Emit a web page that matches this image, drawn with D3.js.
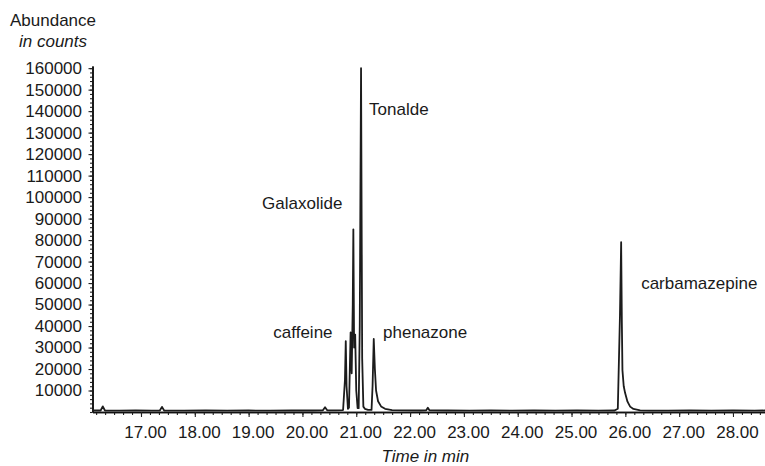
<!DOCTYPE html>
<html><head><meta charset="utf-8">
<script src="https://cdn.jsdelivr.net/npm/d3@7"></script>
<style>
body{margin:0;background:#fff}
text{font-family:"Liberation Sans",Arial,Helvetica,sans-serif;fill:#1a1a1a}
</style>
</head><body>
<svg id="c" width="765" height="466"></svg>
<script>
// ---- data ----
const times = [16.10,16.25,16.29,16.33,16.60,16.90,17.20,17.35,17.39,17.43,17.80,18.20,18.60,19.00,19.40,19.80,20.20,20.38,20.42,20.46,20.62,
  20.755,20.79,20.805,20.82,20.845,
  20.865,20.895,20.915,20.935,20.946,20.96,20.98,21.00,21.025,
  21.045,21.065,21.089,21.11,21.132,21.16,21.22,
  21.284,21.303,21.325,21.346,21.368,21.405,21.461,21.535,21.665,
  21.90,22.20,22.30,22.33,22.36,22.70,23.10,23.50,23.90,24.30,24.70,25.10,25.50,25.80,
  25.86,25.90,25.922,25.935,25.946,25.97,25.996,26.04,26.089,26.15,26.275,26.45,
  26.80,27.20,27.60,28.00,28.40,28.595];
const abundance = [700,700,2600,700,600,700,600,700,2400,700,600,700,600,700,600,700,700,800,2200,800,800,
  900,15000,33000,12000,1500,
  2000,37000,18000,50000,85000,30000,36000,10000,1800,
  1800,40000,160000,25000,2500,1500,1000,
  1000,12000,34000,20000,10000,5000,2600,1500,900,
  800,700,800,2000,800,700,600,700,600,700,600,700,600,700,
  1500,45000,79000,42000,19500,12000,8800,4800,2500,1400,800,600,
  600,700,600,700,600,700];
const xTickValues = [17,18,19,20,21,22,23,24,25,26,27,28];
const yTickValues = [10000,20000,30000,40000,50000,60000,70000,80000,90000,100000,110000,120000,130000,140000,150000,160000];
const peakNames = ["caffeine","Galaxolide","Tonalde","phenazone","carbamazepine"];
const labelTimes = [19.459,19.249,21.238,21.498,26.294];
const labelAbund = [34430,94460,138200,34430,57230];

// ---- chart ----
const svg = d3.select("#c");
const x = d3.scaleLinear().domain([16.099, 28.595]).range([92.5, 765]);
const y = d3.scaleLinear().domain([0, 161000]).range([412, 66]);

// minor ticks
const xMinor = d3.range(16.1667, 28.59, 1/6);
const yMinor = d3.range(0, 160001, 2000);

const gx = svg.append("g").attr("transform", `translate(0,${y(0)})`);
gx.call(d3.axisBottom(x).tickValues(xMinor).tickSize(3).tickSizeOuter(0).tickFormat(""));
const gx2 = svg.append("g").attr("transform", `translate(0,${y(0)})`);
gx2.call(d3.axisBottom(x).tickValues(xTickValues).tickSize(5).tickSizeOuter(0).tickPadding(9).tickFormat(d => d.toFixed(2)));
gx2.selectAll("text").attr("font-size", 17).attr("dx", 4);

const gy = svg.append("g").attr("transform", `translate(${x.range()[0]},0)`);
gy.call(d3.axisLeft(y).tickValues(yMinor).tickSize(2.5).tickSizeOuter(0).tickFormat(""));
const gy2 = svg.append("g").attr("transform", `translate(${x.range()[0]},0)`);
gy2.call(d3.axisLeft(y).tickValues(yTickValues).tickSize(4).tickSizeOuter(0).tickPadding(6.5).tickFormat(d3.format("d")));
gy2.selectAll("text").attr("font-size", 17);

svg.selectAll(".domain").attr("stroke", "#111").attr("stroke-width", 1.6);
svg.selectAll(".tick line").attr("stroke", "#222").attr("stroke-width", 1.1);
svg.selectAll(".tick text").attr("fill", "#1a1a1a");

// chromatogram trace
const pts = times.map((t, i) => [t, abundance[i]]);
svg.append("path")
  .datum(pts)
  .attr("fill", "none")
  .attr("stroke", "#1c1c1c")
  .attr("stroke-width", 1.8)
  .attr("stroke-linejoin", "round")
  .attr("d", d3.line().x(d => x(d[0])).y(d => y(d[1])));

// peak labels
svg.selectAll("text.peak").data(peakNames).join("text")
  .attr("class", "peak")
  .attr("x", (d, i) => x(labelTimes[i]))
  .attr("y", (d, i) => y(labelAbund[i]))
  .attr("font-size", 17)
  .text(d => d);

// axis titles
svg.append("text").attr("x", 10).attr("y", 26).attr("font-size", 17).text("Abundance");
svg.append("text").attr("x", 19).attr("y", 46.5).attr("font-size", 17).attr("font-style", "italic").text("in counts");
svg.append("text").attr("x", 381.5).attr("y", 461.5).attr("font-size", 17).attr("font-style", "italic").text("Time in min");
</script>
</body></html>
